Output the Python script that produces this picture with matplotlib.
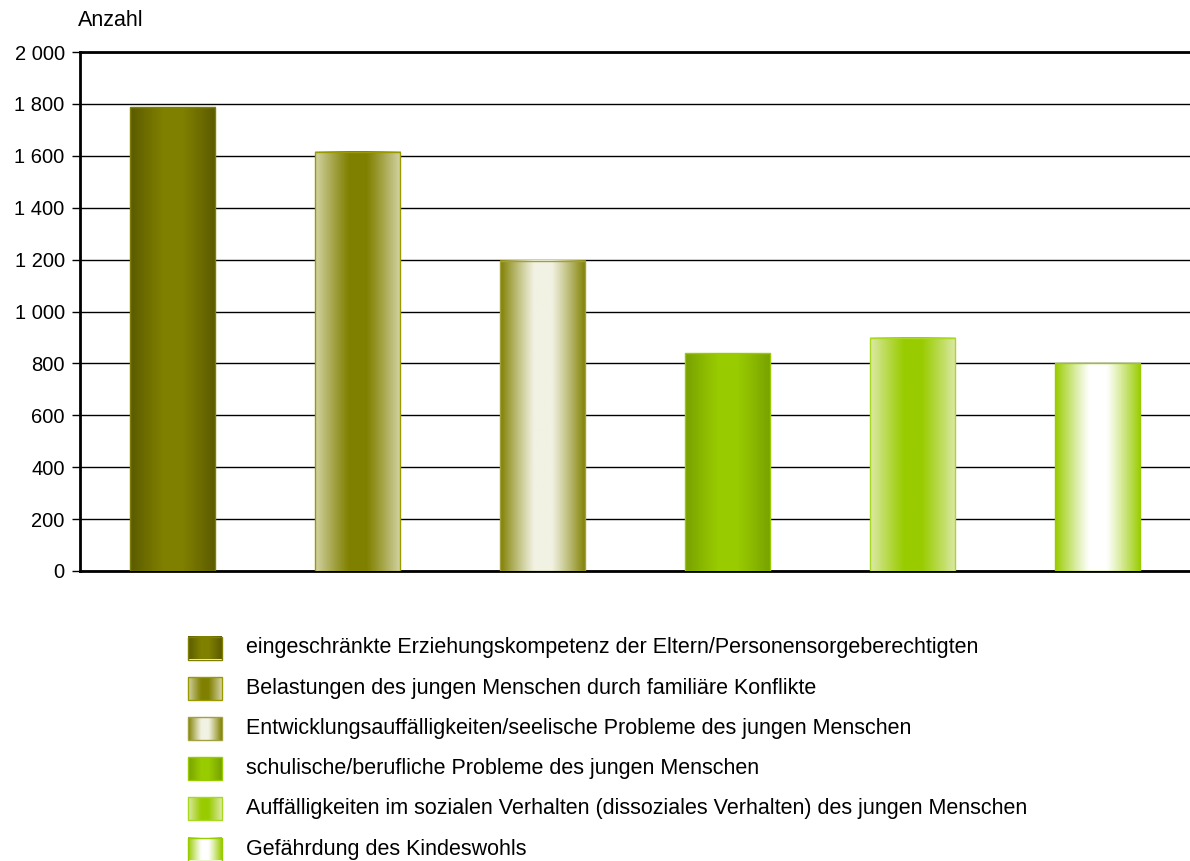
import numpy as np
import matplotlib
matplotlib.use('Agg')
import matplotlib.pyplot as plt
from matplotlib.colors import to_rgb
from matplotlib.ticker import FuncFormatter

plt.rcParams['font.family'] = ['Liberation Sans', 'DejaVu Sans']

categories = ['eingeschränkte Erziehungskompetenz der Eltern/Personensorgeberechtigten',
              'Belastungen des jungen Menschen durch familiäre Konflikte',
              'Entwicklungsauffälligkeiten/seelische Probleme des jungen Menschen',
              'schulische/berufliche Probleme des jungen Menschen',
              'Auffälligkeiten im sozialen Verhalten (dissoziales Verhalten) des jungen Menschen',
              'Gefährdung des Kindeswohls']
values = [1788, 1615, 1195, 840, 898, 801]

# (edge colour of gradient, centre colour of gradient, outline colour)
edge_cols = ['#5a5a00', '#d4d4a6', '#808000', '#78a000', '#dde9a8', '#99cc00']
centre_cols = ['#808000', '#808000', '#f2f2e4', '#99cc00', '#99cc00', '#ffffff']
outline_cols = ['#808000', '#999900', '#a0a040', '#99cc00', '#a8d820', '#99cc00']


def gradient(c_edge, c_mid, n=200):
    x = np.linspace(0, 1, n)
    t = np.abs(x - 0.5) * 2
    m = np.clip((t - 0.2) / 0.8, 0, 1) ** 1.1
    a, b = np.array(to_rgb(c_edge)), np.array(to_rgb(c_mid))
    img = b[None, :] * (1 - m[:, None]) + a[None, :] * m[:, None]
    return img[None, :, :]


fig = plt.figure(figsize=(11.9, 8.61), dpi=100)
ax = fig.add_axes([80/1190, 1-571/861, 1-80/1190, (571-52)/861])

w = 0.46
xs = np.arange(len(values))
for i, v in enumerate(values):
    ax.imshow(gradient(edge_cols[i], centre_cols[i]), extent=[xs[i]-w/2, xs[i]+w/2, 0, v],
              aspect='auto', zorder=3, interpolation='bilinear')
    ax.bar(xs[i], v, width=w, facecolor='none', edgecolor=outline_cols[i], linewidth=1, zorder=4)

ax.set_xlim(-0.5, len(values) - 0.5)
ax.set_ylim(0, 2000)
ax.set_yticks(np.arange(0, 2001, 200))
ax.yaxis.set_major_formatter(FuncFormatter(lambda v, p: '{:,}'.format(int(v)).replace(',', ' ')))
ax.set_xticks([])
ax.grid(axis='y', color='black', linewidth=1, zorder=1)
ax.set_axisbelow(True)
ax.tick_params(axis='y', length=6, width=1, labelsize=14.5, pad=5)
for s in ['left', 'bottom', 'top']:
    ax.spines[s].set_linewidth(2)
ax.spines['right'].set_visible(False)
ax.text(78/1190, 1-20/861, 'Anzahl', transform=fig.transFigure, fontsize=15.5, va='center', ha='left')

# legend
lax = fig.add_axes([0, 0, 1, 1])
lax.set_xlim(0, 1190)
lax.set_ylim(861, 0)
lax.axis('off')
for i, cat in enumerate(categories):
    yc = 648 + i * 40.2
    lax.imshow(gradient(edge_cols[i], centre_cols[i]), extent=[188, 222, yc+11.5, yc-11.5],
               aspect='auto', interpolation='bilinear')
    lax.add_patch(plt.Rectangle((188, yc-11.5), 34, 23, fill=False, edgecolor=outline_cols[i], linewidth=1))
    lax.text(246, yc, cat, fontsize=15.5, va='center', ha='left')
lax.set_xlim(0, 1190)
lax.set_ylim(861, 0)

fig.savefig('out.png', dpi=100)
